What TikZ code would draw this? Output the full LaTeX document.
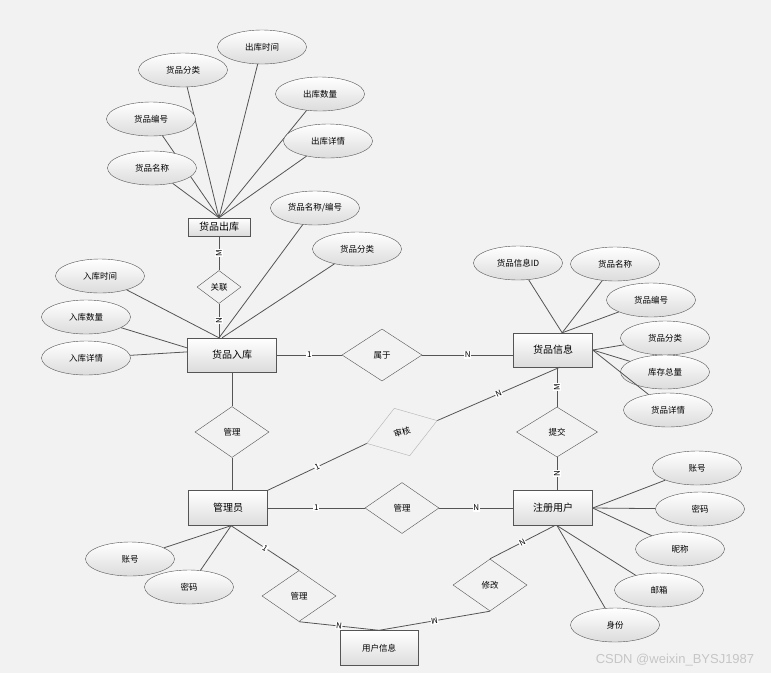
\documentclass[tikz,border=0pt]{standalone}
\usepackage{fontspec}
\setmainfont{Noto Sans CJK SC}
\newfontfamily\wmfont{Liberation Sans}
\usetikzlibrary{shapes.geometric}

\definecolor{bgcol}{RGB}{242,242,242}
\definecolor{linecol}{RGB}{85,85,85}
\definecolor{shadecol}{RGB}{220,220,220}

\tikzset{
  entity/.style={draw=linecol, rectangle, top color=white, bottom color=shadecol,
    font=\fontsize{10}{12}\selectfont, minimum width=79pt, minimum height=35pt, inner sep=1pt},
  attr/.style={draw=linecol, ellipse, top color=white, bottom color=shadecol,
    font=\fontsize{8.5}{10}\selectfont, minimum width=89pt, minimum height=34pt, inner sep=0pt},
  rel/.style={draw=linecol, diamond, fill=bgcol, font=\fontsize{8.5}{10}\selectfont,
    minimum width=74pt, minimum height=51pt, inner sep=0pt},
  conn/.style={draw=linecol, line width=0.8pt},
  lbl/.style={fill=white, inner sep=0.6pt, font=\fontsize{8}{9}\selectfont}
}

\begin{document}
\begin{tikzpicture}[x=1pt, y=-1pt]
  % background
  \fill[bgcol] (0,0) rectangle (771,673);
  \useasboundingbox (0,0) rectangle (771,673);

  % entities
  \node[entity, minimum width=62pt, minimum height=18pt] (chuku) at (219,227) {货品出库};
  \node[entity, minimum width=89pt, minimum height=34pt] (ruku) at (232,355) {货品入库};
  \node[entity, minimum height=34pt] (xinxi) at (553,350) {货品信息};
  \node[entity] (admin) at (228,508) {管理员};
  \node[entity] (user) at (553,508) {注册用户};
  \node[entity, minimum width=78pt, font=\fontsize{8.5}{10}\selectfont] (uinfo) at (379,648) {用户信息};

  % relations
  \node[rel, minimum width=44pt, minimum height=33pt] (guanlian) at (219,287) {关联};
  \node[rel, minimum width=80pt, minimum height=52pt] (shuyu) at (382,355) {属于};
  \node[rel] (guanli1) at (232,432) {管理};
  \node[rel, draw=gray!60, rotate=18, minimum height=50pt] (shenhe) at (402,432) {审核};
  \node[rel, minimum width=81pt, minimum height=50pt] (tijiao) at (557,432) {提交};
  \node[rel] (guanli2) at (402,508) {管理};
  \node[rel] (guanli3) at (299,596) {管理};
  \node[rel, minimum height=52pt] (xiugai) at (490,585) {修改};

  % attributes of 货品出库
  \foreach \n/\x/\y/\t in {c1/183/70/货品分类, c2/262/47/出库时间, c3/320/94/出库数量,
      c4/151/119/货品编号, c5/328/141/出库详情, c6/152/168/货品名称}
  {
    \node[attr] (\n) at (\x,\y) {\t};
    \draw[conn] (\n) -- (chuku.north);
  }

  % attributes of 货品入库
  \foreach \n/\x/\y/\t/\a in {r1/315/208/{货品名称/编号}/127, r2/357/249/货品分类/120,
      r3/100/276/入库时间/127, r4/86/317/入库数量/171, r5/86/358/入库详情/176}
  {
    \node[attr] (\n) at (\x,\y) {\t};
    \draw[conn] (\n) -- (ruku.\a);
  }

  % attributes of 货品信息
  \foreach \n/\x/\y/\t/\a in {x1/518/263/货品信息ID/62, x2/615/264/货品名称/62,
      x3/651/300/货品编号/62, x4/665/338/货品分类/0, x5/665/372/库存总量/0, x6/668/410/货品详情/0}
  {
    \node[attr] (\n) at (\x,\y) {\t};
    \draw[conn] (\n) -- (xinxi.\a);
  }

  % attributes of 管理员
  \foreach \n/\x/\y/\t in {a1/130/559/账号, a2/189/587/密码}
  {
    \node[attr] (\n) at (\x,\y) {\t};
    \draw[conn] (\n) -- (admin.-80);
  }

  % attributes of 注册用户
  \foreach \n/\x/\y/\t/\a in {u1/697/468/账号/0, u2/700/509/密码/0, u3/680/549/昵称/0,
      u4/659/590/邮箱/-77, u5/615/625/身份/-77}
  {
    \node[attr] (\n) at (\x,\y) {\t};
    \draw[conn] (\n) -- (user.\a);
  }

  % relation lines
  \draw[conn] (chuku.south) -- node[lbl, rotate=90] {M} (guanlian.north);
  \draw[conn] (guanlian.south) -- node[lbl, rotate=90] {N} (guanlian.south |- ruku.north);
  \draw[conn] (ruku.east) -- node[lbl] {1} (shuyu.west);
  \draw[conn] (shuyu.east) -- node[lbl] {N} (shuyu.east -| xinxi.west);
  \draw[conn] (ruku.south) -- (guanli1.north);
  \draw[conn] (guanli1.south) -- (guanli1.south |- admin.north);
  \draw[conn] (admin.north east) -- node[lbl, sloped] {1} (shenhe.west);
  \draw[conn] (shenhe.east) -- node[lbl, sloped] {N} (xinxi.-68);
  \draw[conn] (tijiao.north |- xinxi.south) -- node[lbl, rotate=90] {M} (tijiao.north);
  \draw[conn] (tijiao.south) -- node[lbl, rotate=90] {N} (tijiao.south |- user.north);
  \draw[conn] (admin.east) -- node[lbl] {1} (guanli2.west);
  \draw[conn] (guanli2.east) -- node[lbl] {N} (user.west);
  \draw[conn] (admin.-80) -- node[lbl, sloped] {1} (guanli3.north);
  \draw[conn] (guanli3.south) -- node[lbl, sloped] {N} (uinfo.north);
  \draw[conn] (user.-85) -- node[lbl, sloped] {N} (xiugai.north);
  \draw[conn] (xiugai.south) -- node[lbl, sloped, allow upside down] {M} (uinfo.north);

  % watermark
  \node[font=\wmfont\fontsize{13}{14}\selectfont, text=gray!45] (wm) at (675,660) {CSDN @weixin\_BYSJ1987};
\end{tikzpicture}
\end{document}
